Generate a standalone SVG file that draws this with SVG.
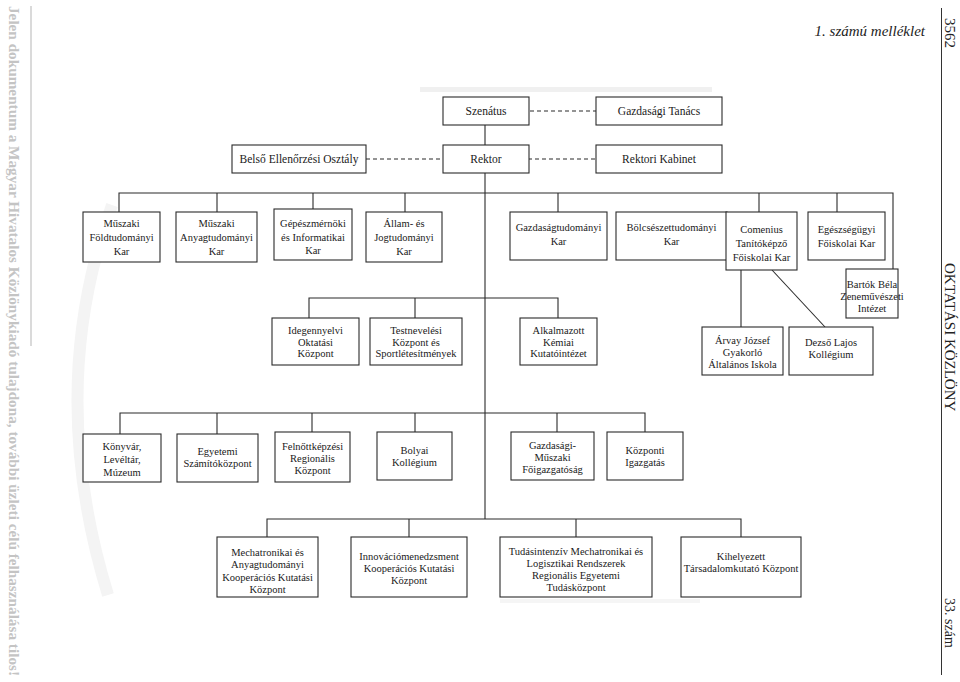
<svg xmlns="http://www.w3.org/2000/svg" width="960" height="682" viewBox="0 0 960 682">
<style>
.bx{fill:#fff;stroke:#2a2a2a;stroke-width:1.1}
.t{font-family:"Liberation Serif","Times New Roman",serif;font-size:10.5px;fill:#1a1a1a;text-anchor:middle}
.tt{font-family:"Liberation Serif","Times New Roman",serif;font-size:11.5px;fill:#1a1a1a;text-anchor:middle}
.ln{stroke:#2a2a2a;stroke-width:1.1;fill:none}
.ds{stroke:#2a2a2a;stroke-width:1.1;fill:none;stroke-dasharray:4 3}
.side{font-family:"Liberation Serif","Times New Roman",serif;font-size:15px;fill:#222}
.wm{font-family:"Liberation Serif","Times New Roman",serif;font-size:15px;font-weight:bold;fill:#c4c4c4}
</style>
<rect width="960" height="682" fill="#fff"/>
<!-- faint watermark shapes -->
<g id="watermark" fill="none">
<path d="M112 205 Q 45 390 108 595" stroke="#f4f4f4" stroke-width="12"/>
<rect x="420" y="87" width="292" height="5" fill="#f0f0f0" stroke="none"/>
<rect x="500" y="599" width="200" height="4" fill="#f5f5f5" stroke="none"/>
<line x1="31" y1="6" x2="31" y2="346" stroke="#b5b5b5" stroke-width="1"/>
<text class="wm" transform="translate(9,6) rotate(90)" textLength="670" lengthAdjust="spacingAndGlyphs">Jelen dokumentum a Magyar Hivatalos Közlönykiadó tulajdona, további üzleti célú felhasználása tilos!</text>
</g>
<!-- header -->
<g id="header">
<text x="925" y="36" style="font-family:'Liberation Serif',serif;font-size:15px;font-style:italic;fill:#222;text-anchor:end">1. számú melléklet</text>
<line x1="941.5" y1="8" x2="941.5" y2="675" stroke="#333" stroke-width="1"/>
<text class="side" transform="translate(945,18) rotate(90)">3562</text>
<text class="side" transform="translate(945,263) rotate(90)">OKTATÁSI  KÖZLÖNY</text>
<text class="side" transform="translate(945,598) rotate(90)" style="font-size:14px">33. szám</text>
</g>
<!-- connectors -->
<g id="connectors">
<line class="ds" x1="530" y1="111" x2="596" y2="111"/>
<line class="ds" x1="366" y1="159" x2="443" y2="159"/>
<line class="ds" x1="528" y1="159" x2="596" y2="159"/>
<line class="ln" x1="485" y1="125" x2="485" y2="145"/>
<line class="ln" x1="485" y1="173" x2="485" y2="519"/>
<!-- row 1 -->
<polyline class="ln" points="119,212 119,193 893,193 893,269"/>
<line class="ln" x1="217" y1="193" x2="217" y2="212"/>
<line class="ln" x1="313" y1="193" x2="313" y2="209"/>
<line class="ln" x1="405" y1="193" x2="405" y2="212"/>
<line class="ln" x1="558" y1="193" x2="558" y2="212"/>
<line class="ln" x1="759" y1="193" x2="759" y2="212"/>
<line class="ln" x1="837" y1="193" x2="837" y2="212"/>
<!-- Comenius children -->
<line class="ln" x1="741" y1="270" x2="741" y2="327"/>
<line class="ln" x1="772" y1="270" x2="825" y2="327"/>
<!-- row 2 -->
<polyline class="ln" points="309,318 309,298 558,298 558,318"/>
<line class="ln" x1="415" y1="298" x2="415" y2="318"/>
<!-- row 3 -->
<polyline class="ln" points="120,434 120,413 645,413 645,432"/>
<line class="ln" x1="217" y1="413" x2="217" y2="434"/>
<line class="ln" x1="312" y1="413" x2="312" y2="432"/>
<line class="ln" x1="415" y1="413" x2="415" y2="432"/>
<line class="ln" x1="557" y1="413" x2="557" y2="432"/>
<!-- row 4 -->
<polyline class="ln" points="267,537 267,519 741,519 741,537"/>
<line class="ln" x1="409" y1="519" x2="409" y2="537"/>
<line class="ln" x1="576" y1="519" x2="576" y2="537"/>
</g>
<!-- top -->
<g id="szenatus"><rect class="bx" x="443" y="97" width="86" height="28"/><text class="tt" x="486" y="115">Szenátus</text></g>
<g id="gazdasagi-tanacs"><rect class="bx" x="596" y="97" width="126" height="28"/><text class="tt" x="659" y="115">Gazdasági Tanács</text></g>
<g id="belso"><rect class="bx" x="232" y="145" width="134" height="28"/><text class="tt" x="299" y="163">Belső Ellenőrzési Osztály</text></g>
<g id="rektor"><rect class="bx" x="443" y="145" width="86" height="28"/><text class="tt" x="486" y="163">Rektor</text></g>
<g id="rektori-kabinet"><rect class="bx" x="596" y="145" width="126" height="28"/><text class="tt" x="659" y="163">Rektori Kabinet</text></g>
<!-- row 1 -->
<g id="foldtud"><rect class="bx" x="83" y="212" width="77" height="50"/><text class="t" x="121.5" y="227">Műszaki</text><text class="t" x="121.5" y="241">Földtudományi</text><text class="t" x="121.5" y="255">Kar</text></g>
<g id="anyagtud"><rect class="bx" x="176" y="212" width="81" height="50"/><text class="t" x="216.5" y="227">Műszaki</text><text class="t" x="216.5" y="241">Anyagtudományi</text><text class="t" x="216.5" y="255">Kar</text></g>
<g id="gepesz"><rect class="bx" x="274" y="209" width="78" height="51"/><text class="t" x="313" y="227">Gépészmérnöki</text><text class="t" x="313" y="241">és Informatikai</text><text class="t" x="313" y="254">Kar</text></g>
<g id="allam"><rect class="bx" x="366" y="212" width="76" height="50"/><text class="t" x="404" y="227">Állam- és</text><text class="t" x="404" y="241">Jogtudományi</text><text class="t" x="404" y="255">Kar</text></g>
<g id="gazdasagtud"><rect class="bx" x="510" y="212" width="97" height="48"/><text class="t" x="558.5" y="231">Gazdaságtudományi</text><text class="t" x="558.5" y="245">Kar</text></g>
<g id="bolcsesz"><rect class="bx" x="616" y="212" width="111" height="48"/><text class="t" x="671.5" y="231">Bölcsészettudományi</text><text class="t" x="671.5" y="245">Kar</text></g>
<g id="comenius"><rect class="bx" x="726" y="212" width="71" height="58"/><text class="t" x="761.5" y="233">Comenius</text><text class="t" x="761.5" y="247">Tanítóképző</text><text class="t" x="761.5" y="261">Főiskolai Kar</text></g>
<g id="egeszseg"><rect class="bx" x="808" y="212" width="77" height="48"/><text class="t" x="846.5" y="233">Egészségügyi</text><text class="t" x="846.5" y="247">Főiskolai Kar</text></g>
<g id="bartok"><rect class="bx" x="846" y="269" width="52" height="49"/><text class="t" x="872" y="288">Bartók Béla</text><text class="t" x="872" y="300">Zeneművészeti</text><text class="t" x="872" y="312">Intézet</text></g>
<!-- row 2 -->
<g id="idegennyelvi"><rect class="bx" x="272" y="318" width="87" height="47"/><text class="t" x="315.5" y="334">Idegennyelvi</text><text class="t" x="315.5" y="345.5">Oktatási</text><text class="t" x="315.5" y="357">Központ</text></g>
<g id="testneveles"><rect class="bx" x="370" y="318" width="92" height="47"/><text class="t" x="416" y="334">Testnevelési</text><text class="t" x="416" y="345.5">Központ és</text><text class="t" x="416" y="357">Sportlétesítmények</text></g>
<g id="alkalmazott"><rect class="bx" x="520" y="318" width="77" height="47"/><text class="t" x="558.5" y="334">Alkalmazott</text><text class="t" x="558.5" y="345.5">Kémiai</text><text class="t" x="558.5" y="357">Kutatóintézet</text></g>
<g id="arvay"><rect class="bx" x="702" y="327" width="81" height="48"/><text class="t" x="742.5" y="344">Árvay József</text><text class="t" x="742.5" y="356">Gyakorló</text><text class="t" x="742.5" y="368">Általános Iskola</text></g>
<g id="dezso"><rect class="bx" x="789" y="327" width="84" height="48"/><text class="t" x="831" y="346">Dezső Lajos</text><text class="t" x="831" y="358">Kollégium</text></g>
<!-- row 3 -->
<g id="konyvtar"><rect class="bx" x="83" y="434" width="78" height="48"/><text class="t" x="122" y="450">Könyvár,</text><text class="t" x="122" y="463">Levéltár,</text><text class="t" x="122" y="476">Múzeum</text></g>
<g id="szamito"><rect class="bx" x="177" y="434" width="81" height="48"/><text class="t" x="217.5" y="455">Egyetemi</text><text class="t" x="217.5" y="467">Számítóközpont</text></g>
<g id="felnott"><rect class="bx" x="275" y="432" width="75" height="50"/><text class="t" x="312.5" y="450">Felnőttképzési</text><text class="t" x="312.5" y="462">Regionális</text><text class="t" x="312.5" y="474">Központ</text></g>
<g id="bolyai"><rect class="bx" x="377" y="432" width="75" height="48"/><text class="t" x="414.5" y="454">Bolyai</text><text class="t" x="414.5" y="466">Kollégium</text></g>
<g id="gmf"><rect class="bx" x="511" y="432" width="83" height="48"/><text class="t" x="552.5" y="449">Gazdasági-</text><text class="t" x="552.5" y="461">Műszaki</text><text class="t" x="552.5" y="473">Főigazgatóság</text></g>
<g id="kozponti"><rect class="bx" x="607" y="432" width="76" height="48"/><text class="t" x="645" y="454">Központi</text><text class="t" x="645" y="466">Igazgatás</text></g>
<!-- row 4 -->
<g id="mechatronikai"><rect class="bx" x="217" y="537" width="101" height="60"/><text class="t" x="267.5" y="556">Mechatronikai és</text><text class="t" x="267.5" y="568">Anyagtudományi</text><text class="t" x="267.5" y="581">Kooperációs Kutatási</text><text class="t" x="267.5" y="593">Központ</text></g>
<g id="innovacio"><rect class="bx" x="351" y="537" width="116" height="60"/><text class="t" x="409" y="560">Innovációmenedzsment</text><text class="t" x="409" y="572">Kooperációs Kutatási</text><text class="t" x="409" y="584">Központ</text></g>
<g id="tudasintenziv"><rect class="bx" x="500" y="537" width="152" height="60"/><text class="t" x="576" y="555">Tudásintenzív Mechatronikai és</text><text class="t" x="576" y="567">Logisztikai Rendszerek</text><text class="t" x="576" y="579">Regionális Egyetemi</text><text class="t" x="576" y="591">Tudásközpont</text></g>
<g id="kihelyezett"><rect class="bx" x="681" y="537" width="120" height="60"/><text class="t" x="741" y="560">Kihelyezett</text><text class="t" x="741" y="572">Társadalomkutató Központ</text></g>
</svg>
